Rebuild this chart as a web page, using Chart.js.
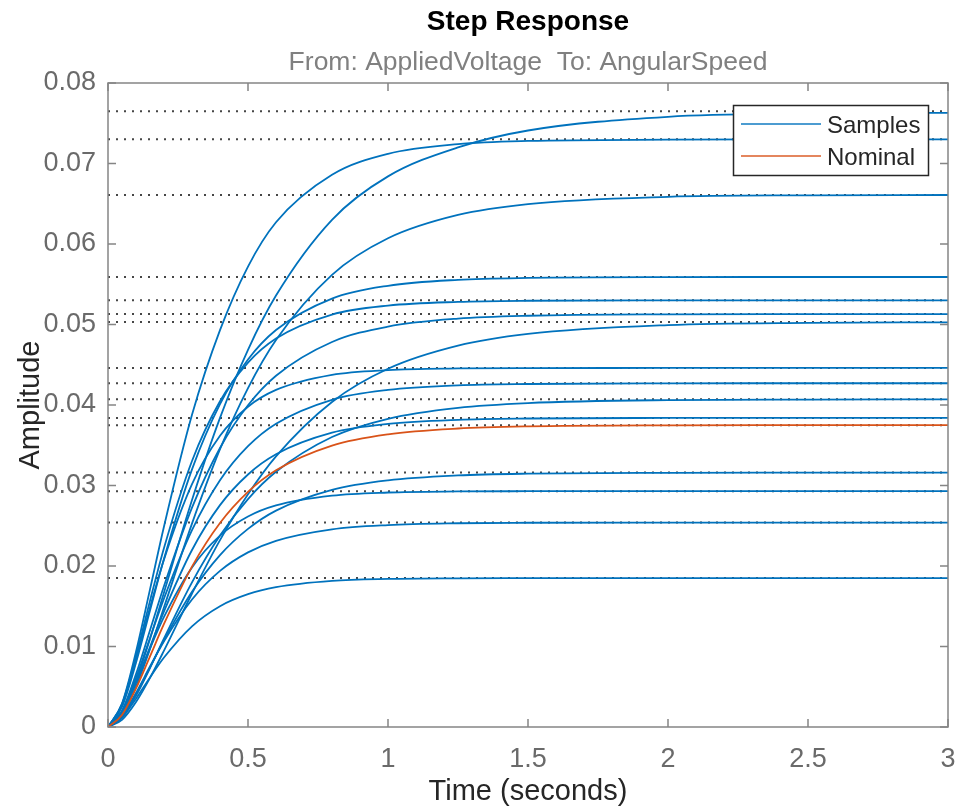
<!DOCTYPE html>
<html>
<head>
<meta charset="utf-8">
<script src="https://cdn.jsdelivr.net/npm/chart.js@4.4.1/dist/chart.umd.min.js"></script>
<style>
html,body{margin:0;padding:0;background:#fff;overflow:hidden;}
canvas{display:block;}
</style>
</head>
<body>
<canvas id="c" width="962" height="809" style="width:962px;height:809px;"></canvas>
<script>
// ---- data ----
const timeGrid = [0, 0.05, 0.1, 0.15, 0.2, 0.3, 0.4, 0.5, 0.6, 0.8, 1.0, 1.25, 1.5, 2.0, 2.5, 3.0];

const sample1  = [0, 0.00168, 0.00569, 0.01094, 0.01671, 0.0282, 0.0384, 0.04686, 0.0536, 0.06301, 0.0684, 0.072, 0.0741, 0.0758, 0.0762, 0.0763];
const sample2  = [0, 0.00291, 0.00935, 0.01709, 0.02491, 0.03878, 0.0493, 0.0572, 0.0627, 0.0686, 0.0712, 0.0724, 0.0728, 0.07296, 0.07299, 0.073];
const sample3  = [0, 0.00147, 0.00502, 0.00969, 0.01487, 0.02527, 0.03451, 0.0421, 0.04808, 0.05617, 0.06071, 0.06361, 0.06496, 0.06586, 0.06605, 0.06609];
const sample4  = [0, 0.0025, 0.00798, 0.01447, 0.02091, 0.03201, 0.04012, 0.04566, 0.04932, 0.05322, 0.05481, 0.05555, 0.05579, 0.05589, 0.0559, 0.0559];
const sample5  = [0, 0.00284, 0.00883, 0.01567, 0.02225, 0.03305, 0.04047, 0.04526, 0.04826, 0.05124, 0.05235, 0.05281, 0.05295, 0.053, 0.053, 0.053];
const sample6  = [0, 0.00204, 0.00657, 0.01201, 0.01751, 0.02725, 0.03466, 0.03996, 0.04363, 0.04783, 0.04974, 0.05073, 0.05109, 0.05127, 0.0513, 0.0513];
const sample7  = [0, 0.00089, 0.0031, 0.0061, 0.00949, 0.01658, 0.02321, 0.02891, 0.03362, 0.04038, 0.0445, 0.04737, 0.04883, 0.04993, 0.05021, 0.05027];
const sample8  = [0, 0.00277, 0.00849, 0.01486, 0.02081, 0.03017, 0.03618, 0.03979, 0.04188, 0.04375, 0.04434, 0.04454, 0.04459, 0.0446, 0.0446, 0.0446];
const sample9  = [0, 0.00191, 0.0061, 0.01105, 0.01597, 0.02445, 0.03065, 0.03488, 0.03767, 0.04065, 0.04187, 0.04244, 0.04261, 0.04269, 0.0427, 0.0427];
const sample10 = [0, 0.00116, 0.00389, 0.00733, 0.011, 0.01797, 0.02379, 0.02831, 0.0317, 0.03602, 0.03829, 0.03965, 0.04024, 0.04061, 0.04068, 0.0407];
const sample11 = [0, 0.00172, 0.00548, 0.00994, 0.01437, 0.02199, 0.02756, 0.03137, 0.03388, 0.03656, 0.03765, 0.03816, 0.03832, 0.03839, 0.0384, 0.0384];
const sample12 = [0, 0.00126, 0.00405, 0.0074, 0.01079, 0.01679, 0.02135, 0.02461, 0.02688, 0.02946, 0.03064, 0.03125, 0.03147, 0.03158, 0.0316, 0.0316];
const sample13 = [0, 0.00182, 0.00558, 0.00976, 0.01367, 0.01982, 0.02377, 0.02614, 0.02752, 0.02874, 0.02913, 0.02926, 0.02929, 0.0293, 0.0293, 0.0293];
const sample14 = [0, 0.00136, 0.00423, 0.00751, 0.01066, 0.01584, 0.01939, 0.02169, 0.02313, 0.02456, 0.02509, 0.02531, 0.02537, 0.0254, 0.0254, 0.0254];
const sample15 = [0, 0.00115, 0.00352, 0.00616, 0.00863, 0.01251, 0.01501, 0.0165, 0.01737, 0.01815, 0.01839, 0.01847, 0.01849, 0.0185, 0.0185, 0.0185];
const nominal  = [0, 0.00149, 0.0048, 0.00878, 0.0128, 0.01992, 0.02534, 0.02921, 0.03189, 0.03496, 0.03636, 0.03708, 0.03735, 0.03748, 0.0375, 0.0375];

const steadyStates = [0.0765, 0.073, 0.0661, 0.0559, 0.053, 0.0513, 0.0503, 0.0446, 0.0427, 0.0407, 0.0384, 0.0375, 0.0316, 0.0293, 0.0254, 0.0185];

const xTickValues = [0, 0.5, 1, 1.5, 2, 2.5, 3];
const xTickLabels = ['0', '0.5', '1', '1.5', '2', '2.5', '3'];
const yTickValues = [0, 0.01, 0.02, 0.03, 0.04, 0.05, 0.06, 0.07, 0.08];
const yTickLabels = ['0', '0.01', '0.02', '0.03', '0.04', '0.05', '0.06', '0.07', '0.08'];

const titleText = 'Step Response';
const subtitleText = 'From: AppliedVoltage  To: AngularSpeed';
const xAxisTitle = 'Time (seconds)';
const yAxisTitle = 'Amplitude';
const legendLabels = ['Samples', 'Nominal'];

// ---- styles ----
const FONT = "'Liberation Sans', Arial, Helvetica, sans-serif";
const BLUE = '#0072BD';
const ORANGE = '#D95319';

const samples = [sample1, sample2, sample3, sample4, sample5, sample6, sample7, sample8,
                 sample9, sample10, sample11, sample12, sample13, sample14, sample15];

const toPoints = arr => arr.map((v, i) => ({x: timeGrid[i], y: v}));

const datasets = [];
datasets.push({
  label: 'Nominal', data: toPoints(nominal), borderColor: ORANGE, borderWidth: 1.8,
  pointRadius: 0, cubicInterpolationMode: 'monotone', order: 1
});
samples.forEach((s, i) => datasets.push({
  label: 'Sample ' + (i + 1), data: toPoints(s), borderColor: BLUE, borderWidth: 1.8,
  pointRadius: 0, cubicInterpolationMode: 'monotone', order: 2
}));
steadyStates.forEach(v => datasets.push({
  label: 'ss', data: [{x: 0, y: v}, {x: 3, y: v}], borderColor: 'rgba(50,50,50,0.9)',
  borderWidth: 2, borderDash: [2, 6], pointRadius: 0, order: 3
}));

const framePlugin = {
  id: 'matlabFrame',
  afterDraw(chart) {
    const {ctx, chartArea: a, scales: {x, y}} = chart;
    ctx.save();
    // axes box
    ctx.strokeStyle = '#858585';
    ctx.lineWidth = 1.5;
    ctx.strokeRect(a.left, a.top, a.right - a.left, a.bottom - a.top);
    // inward ticks on all sides
    const tl = 8;
    ctx.beginPath();
    xTickValues.forEach(v => {
      const px = x.getPixelForValue(v);
      ctx.moveTo(px, a.bottom); ctx.lineTo(px, a.bottom - tl);
      ctx.moveTo(px, a.top); ctx.lineTo(px, a.top + tl);
    });
    yTickValues.forEach(v => {
      const py = y.getPixelForValue(v);
      ctx.moveTo(a.left, py); ctx.lineTo(a.left + tl, py);
      ctx.moveTo(a.right, py); ctx.lineTo(a.right - tl, py);
    });
    ctx.stroke();

    const cx = (a.left + a.right) / 2;
    const cy = (a.top + a.bottom) / 2;
    ctx.textAlign = 'center';
    ctx.textBaseline = 'middle';
    // title
    ctx.fillStyle = '#000';
    ctx.font = 'bold 28px ' + FONT;
    ctx.fillText(titleText, cx, 22);
    // subtitle
    ctx.fillStyle = '#808080';
    ctx.font = '26.5px ' + FONT;
    ctx.fillText(subtitleText, cx, 63);
    // axis titles
    ctx.fillStyle = '#262626';
    ctx.font = '29px ' + FONT;
    ctx.fillText(xAxisTitle, cx, 792);
    ctx.save();
    ctx.translate(31, cy);
    ctx.rotate(-Math.PI / 2);
    ctx.fillText(yAxisTitle, 0, 0);
    ctx.restore();

    // legend
    const lx = 733.5, ly = 105.5, lw = 195, lh = 70;
    ctx.fillStyle = '#fff';
    ctx.fillRect(lx, ly, lw, lh);
    ctx.strokeStyle = '#262626';
    ctx.lineWidth = 1.5;
    ctx.strokeRect(lx, ly, lw, lh);
    const rows = [{c: BLUE, y: 124}, {c: ORANGE, y: 156}];
    rows.forEach((r, i) => {
      ctx.strokeStyle = r.c;
      ctx.globalAlpha = 0.7;
      ctx.lineWidth = 2.2;
      ctx.beginPath();
      ctx.moveTo(741, r.y); ctx.lineTo(821, r.y);
      ctx.stroke();
      ctx.globalAlpha = 1;
      ctx.fillStyle = '#262626';
      ctx.font = '24px ' + FONT;
      ctx.textAlign = 'left';
      ctx.fillText(legendLabels[i], 827, r.y + 2);
    });
    ctx.restore();
  }
};

new Chart(document.getElementById('c'), {
  type: 'line',
  data: {datasets},
  options: {
    responsive: false,
    maintainAspectRatio: false,
    animation: false,
    devicePixelRatio: 1,
    layout: {padding: {top: 83, right: 14, bottom: 0, left: 0}},
    plugins: {legend: {display: false}, tooltip: {enabled: false}, title: {display: false}},
    elements: {line: {tension: 0}},
    scales: {
      x: {
        type: 'linear', min: 0, max: 3,
        grid: {display: false, drawTicks: false},
        border: {display: false},
        afterBuildTicks: s => { s.ticks = xTickValues.map(v => ({value: v})); },
        afterFit: s => { s.height = 82; s.paddingLeft = 0; s.paddingRight = 0; },
        ticks: {
          padding: 16, color: '#6a6a6a', maxRotation: 0, autoSkip: false,
          font: {family: FONT, size: 27},
          callback: (v, i) => xTickLabels[i]
        }
      },
      y: {
        type: 'linear', min: 0, max: 0.08,
        grid: {display: false, drawTicks: false},
        border: {display: false},
        afterBuildTicks: s => { s.ticks = yTickValues.map(v => ({value: v})); },
        afterFit: s => { s.width = 108; s.paddingTop = 0; s.paddingBottom = 0; },
        ticks: {
          padding: 12, color: '#6a6a6a', autoSkip: false,
          font: {family: FONT, size: 27},
          callback: (v, i) => yTickLabels[i]
        }
      }
    }
  },
  plugins: [framePlugin]
});
</script>
</body>
</html>
